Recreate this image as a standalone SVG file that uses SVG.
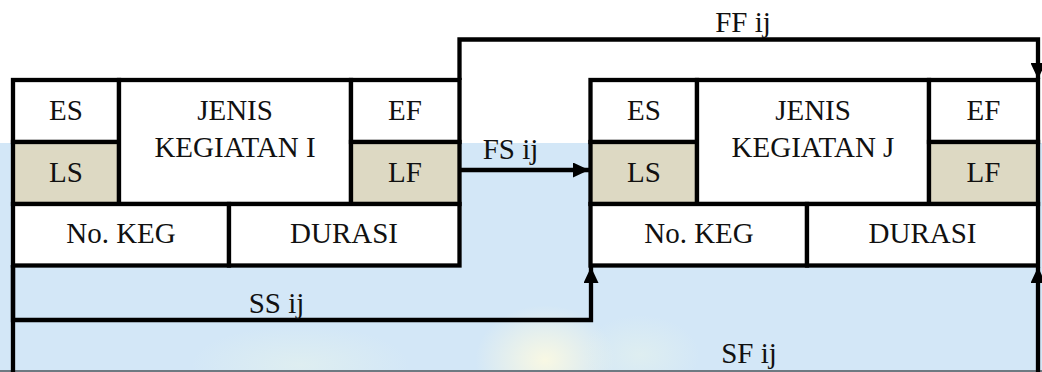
<svg xmlns="http://www.w3.org/2000/svg" width="1042" height="372" viewBox="0 0 1042 372">
  <style>
    .cell { stroke: #000; stroke-width: 4.3; fill: #fff; }
    .tan { fill: #DDD9C3; }
    .t { font-family: "Liberation Serif", "Times New Roman", serif; font-size: 29px; fill: #111; text-anchor: middle; }
    .conn { fill: none; stroke: #000; stroke-width: 4.3; }
  </style>
  <defs>
    <marker id="arrow" viewBox="0 0 16 15" markerWidth="16" markerHeight="15" refX="16" refY="7.5" orient="auto" markerUnits="userSpaceOnUse">
      <path d="M0,0 L16,7.5 L0,15 z" fill="#000"/>
    </marker>
    <radialGradient id="glow" cx="0.5" cy="0.5" r="0.5">
      <stop offset="0" stop-color="#fffbe0" stop-opacity="0.85"/>
      <stop offset="1" stop-color="#fffbe0" stop-opacity="0"/>
    </radialGradient>
    <radialGradient id="glow2" cx="0.5" cy="0.5" r="0.5">
      <stop offset="0" stop-color="#e3f1ee" stop-opacity="0.7"/>
      <stop offset="1" stop-color="#e3f1ee" stop-opacity="0"/>
    </radialGradient>
  </defs>

  <g id="background">
    <rect x="0" y="0" width="1042" height="372" fill="#fff"/>
    <rect x="0" y="143" width="1042" height="229" fill="#D3E7F7"/>
    <ellipse cx="545" cy="360" rx="70" ry="55" fill="url(#glow)"/>
    <ellipse cx="300" cy="365" rx="110" ry="40" fill="url(#glow2)"/>
    <ellipse cx="640" cy="355" rx="60" ry="40" fill="url(#glow2)"/>
    <rect x="0" y="370" width="1042" height="2" fill="#6E7A82"/>
  </g>

  <g id="node-i">
    <rect class="cell" x="13" y="80" width="106" height="62"/>
    <rect class="cell tan" x="13" y="142" width="106" height="62"/>
    <rect class="cell" x="119" y="80" width="232" height="124"/>
    <rect class="cell" x="351" y="80" width="108.5" height="62"/>
    <rect class="cell tan" x="351" y="142" width="108.5" height="62"/>
    <rect class="cell" x="13" y="204" width="216" height="61.5"/>
    <rect class="cell" x="229" y="204" width="230.5" height="61.5"/>
    <text class="t" x="66" y="120">ES</text>
    <text class="t" x="66" y="182">LS</text>
    <text class="t" x="235" y="120">JENIS</text>
    <text class="t" x="235" y="157">KEGIATAN I</text>
    <text class="t" x="405" y="120">EF</text>
    <text class="t" x="405" y="182">LF</text>
    <text class="t" x="121" y="243">No. KEG</text>
    <text class="t" x="344" y="243">DURASI</text>
  </g>

  <g id="node-j">
    <rect class="cell" x="590.5" y="80" width="106.5" height="62"/>
    <rect class="cell tan" x="590.5" y="142" width="106.5" height="62"/>
    <rect class="cell" x="697" y="80" width="232" height="124"/>
    <rect class="cell" x="929" y="80" width="109" height="62"/>
    <rect class="cell tan" x="929" y="142" width="109" height="62"/>
    <rect class="cell" x="590.5" y="204" width="216.5" height="61.5"/>
    <rect class="cell" x="807" y="204" width="231" height="61.5"/>
    <text class="t" x="644" y="120">ES</text>
    <text class="t" x="644" y="182">LS</text>
    <text class="t" x="813" y="120">JENIS</text>
    <text class="t" x="813" y="157">KEGIATAN J</text>
    <text class="t" x="983.5" y="120">EF</text>
    <text class="t" x="983.5" y="182">LF</text>
    <text class="t" x="699" y="243">No. KEG</text>
    <text class="t" x="922.5" y="243">DURASI</text>
  </g>

  <g id="connectors">
    <path id="ff" class="conn" d="M459.5,80 V39.5 H1038 V79" marker-end="url(#arrow)"/>
    <path id="fs" class="conn" d="M461,170 H589" marker-end="url(#arrow)"/>
    <path id="ss" class="conn" d="M13,265 V320 H591 V267" marker-end="url(#arrow)"/>
    <path id="sf" class="conn" d="M13,265 V400 H1038 V267" marker-end="url(#arrow)"/>
    <text class="t" x="743" y="31.5">FF ij</text>
    <text class="t" x="510.5" y="159">FS ij</text>
    <text class="t" x="276.5" y="313">SS ij</text>
    <text class="t" x="749" y="363">SF ij</text>
  </g>
</svg>
